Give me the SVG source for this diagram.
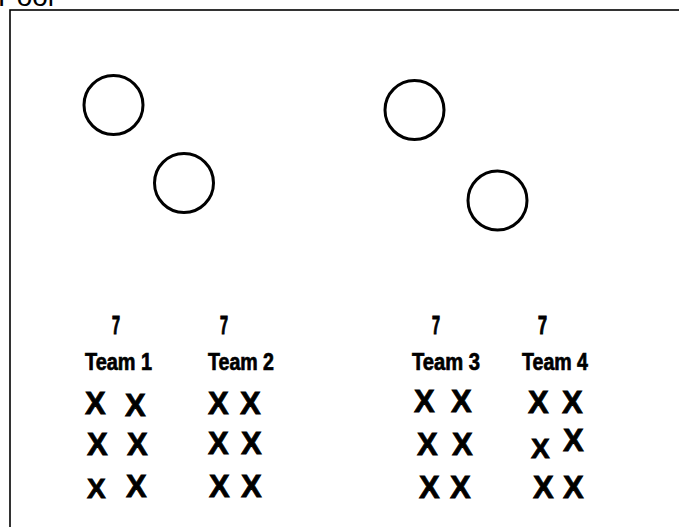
<svg xmlns="http://www.w3.org/2000/svg" width="679" height="527" viewBox="0 0 679 527">
<style>
.c{fill:none;stroke:#000;stroke-width:3}
.t{font-family:"Liberation Sans",Arial,sans-serif;font-weight:bold;fill:#000;stroke:#000}
.n{font-size:26px;stroke-width:1.2}
.m{font-size:23px;stroke-width:0.7}
.x{font-size:31px;stroke-width:0.8}
.xs{font-size:28px;stroke-width:0.8}
.hd{font-family:"Liberation Sans",Arial,sans-serif;font-size:28px;fill:#000}
</style>
<rect width="679" height="527" fill="#fff"/>
<text class="hd" x="-2" y="6">Pool</text>
<rect x="10" y="10" width="690" height="540" fill="none" stroke="#000" stroke-width="1.6"/>
<g id="circle1"><circle class="c" cx="113.5" cy="105" r="29.5"/></g>
<g id="circle2"><circle class="c" cx="184" cy="183" r="29.5"/></g>
<g id="circle3"><circle class="c" cx="414.5" cy="110" r="29.5"/></g>
<g id="circle4"><circle class="c" cx="497.5" cy="200.5" r="29.5"/></g>
<g id="team1">
<text class="t n" x="112" y="334" textLength="8" lengthAdjust="spacingAndGlyphs">7</text>
<text class="t m" x="85" y="370" textLength="67" lengthAdjust="spacingAndGlyphs">Team 1</text>
<text class="t x" x="85" y="414">X</text>
<text class="t x" x="125" y="416">X</text>
<text class="t x" x="87" y="455">X</text>
<text class="t x" x="127" y="455">X</text>
<text class="t xs" x="87" y="498">X</text>
<text class="t x" x="126" y="497">X</text>
</g>
<g id="team2">
<text class="t n" x="220" y="334" textLength="8" lengthAdjust="spacingAndGlyphs">7</text>
<text class="t m" x="208" y="370" textLength="66" lengthAdjust="spacingAndGlyphs">Team 2</text>
<text class="t x" x="208" y="414">X</text>
<text class="t x" x="240" y="414">X</text>
<text class="t x" x="208" y="454">X</text>
<text class="t x" x="241" y="454">X</text>
<text class="t x" x="209" y="497">X</text>
<text class="t x" x="241" y="497">X</text>
</g>
<g id="team3">
<text class="t n" x="432" y="334" textLength="8" lengthAdjust="spacingAndGlyphs">7</text>
<text class="t m" x="412" y="370" textLength="68" lengthAdjust="spacingAndGlyphs">Team 3</text>
<text class="t x" x="414" y="412">X</text>
<text class="t x" x="451" y="412">X</text>
<text class="t x" x="417" y="455">X</text>
<text class="t x" x="452" y="455">X</text>
<text class="t x" x="419" y="498">X</text>
<text class="t x" x="450" y="498">X</text>
</g>
<g id="team4">
<text class="t n" x="538" y="334" textLength="9" lengthAdjust="spacingAndGlyphs">7</text>
<text class="t m" x="522" y="370" textLength="66" lengthAdjust="spacingAndGlyphs">Team 4</text>
<text class="t x" x="528" y="413">X</text>
<text class="t x" x="562" y="413">X</text>
<text class="t xs" x="531" y="458">X</text>
<text class="t x" x="563" y="451">X</text>
<text class="t x" x="533" y="498">X</text>
<text class="t x" x="563" y="498">X</text>
</g>
</svg>
